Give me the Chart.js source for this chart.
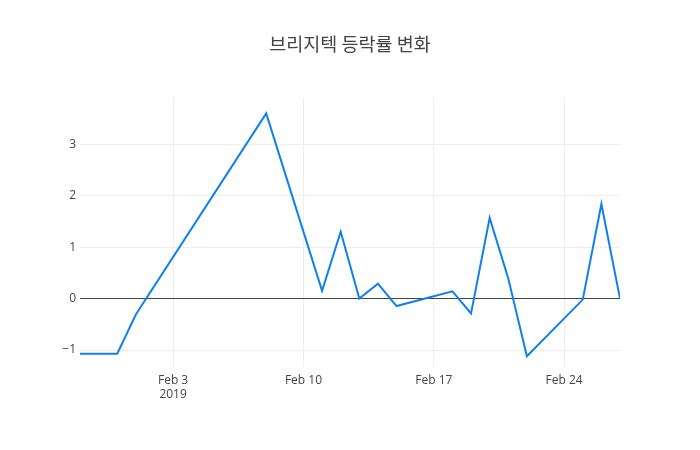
<!DOCTYPE html>
<html>
<head>
<meta charset="utf-8">
<script src="https://cdn.jsdelivr.net/npm/chart.js@4/dist/chart.umd.min.js"></script>
<style>
html,body{margin:0;padding:0;background:#fff;}
#wrap{width:700px;height:450px;}
</style>
</head>
<body>
<div id="wrap"><canvas id="c" width="700" height="450"></canvas></div>
<script>
const titleText = '브리지텍 등락률 변화';
const dates = ['2019-01-29','2019-01-31','2019-02-01','2019-02-08','2019-02-11','2019-02-12','2019-02-13','2019-02-14','2019-02-15','2019-02-18','2019-02-19','2019-02-20','2019-02-21','2019-02-22','2019-02-25','2019-02-26','2019-02-27'];
const changes = [-1.07,-1.07,-0.31,3.6,0.15,1.3,0.0,0.29,-0.145,0.14,-0.29,1.57,0.39,-1.12,-0.02,1.84,0.0];
const xTickDates = ['2019-02-03','2019-02-10','2019-02-17','2019-02-24'];
const xTickLabels = [['Feb 3','2019'],'Feb 10','Feb 17','Feb 24'];
const yTicks = [-1,0,1,2,3];
const xRange = ['2019-01-29','2019-02-27'];
const yRange = [-1.33,3.9];

const DAY = 86400000;
const base = Date.parse(xRange[0]);
const toDay = s => (Date.parse(s) - base) / DAY;
const points = dates.map((d,i) => ({x: toDay(d), y: changes[i]}));
const xTickVals = xTickDates.map(toDay);

const font = "'Open Sans', 'Noto Sans CJK KR', sans-serif";

const titlePlugin = {
  id: 'centerTitle',
  afterDraw(chart) {
    const ctx = chart.ctx;
    ctx.save();
    ctx.font = "18.5px 'Noto Sans CJK KR', 'Open Sans', sans-serif";
    ctx.fillStyle = '#444';
    ctx.textAlign = 'center';
    ctx.textBaseline = 'middle';
    ctx.fillText(titleText, chart.width / 2, 44);
    ctx.restore();
  }
};

new Chart(document.getElementById('c'), {
  type: 'line',
  data: {
    datasets: [{
      data: points,
      borderColor: '#0f80ee',
      borderWidth: 2,
      pointRadius: 0,
      tension: 0,
      fill: false
    }]
  },
  options: {
    responsive: false,
    animation: false,
    layout: {padding: {left: 0, right: 80, top: 98, bottom: 0}},
    plugins: {
      legend: {display: false},
      tooltip: {enabled: false},
      title: {display: false}
    },
    scales: {
      x: {
        type: 'linear',
        min: toDay(xRange[0]),
        max: toDay(xRange[1]),
        border: {display: false},
        grid: {color: '#eeeeee', lineWidth: 1, drawTicks: false},
        afterBuildTicks: s => { s.ticks = xTickVals.map(v => ({value: v})); },
        afterFit: s => { s.height = 83; },
        ticks: {
          autoSkip: false,
          maxRotation: 0,
          padding: 6,
          color: '#444',
          font: {family: font, size: 12},
          callback: (v) => { const i = xTickVals.indexOf(v); return i >= 0 ? xTickLabels[i] : ''; }
        }
      },
      y: {
        type: 'linear',
        min: yRange[0],
        max: yRange[1],
        border: {display: false},
        grid: {
          color: ctx => ctx.tick && ctx.tick.value === 0 ? '#444444' : '#eeeeee',
          lineWidth: 1,
          drawTicks: false
        },
        afterBuildTicks: s => { s.ticks = yTicks.map(v => ({value: v})); },
        afterFit: s => { s.width = 80; },
        ticks: {
          padding: 4,
          color: '#444',
          font: {family: font, size: 12},
          callback: v => (v < 0 ? '\u2212' + Math.abs(v) : String(v))
        }
      }
    }
  },
  plugins: [titlePlugin]
});
</script>
</body>
</html>
